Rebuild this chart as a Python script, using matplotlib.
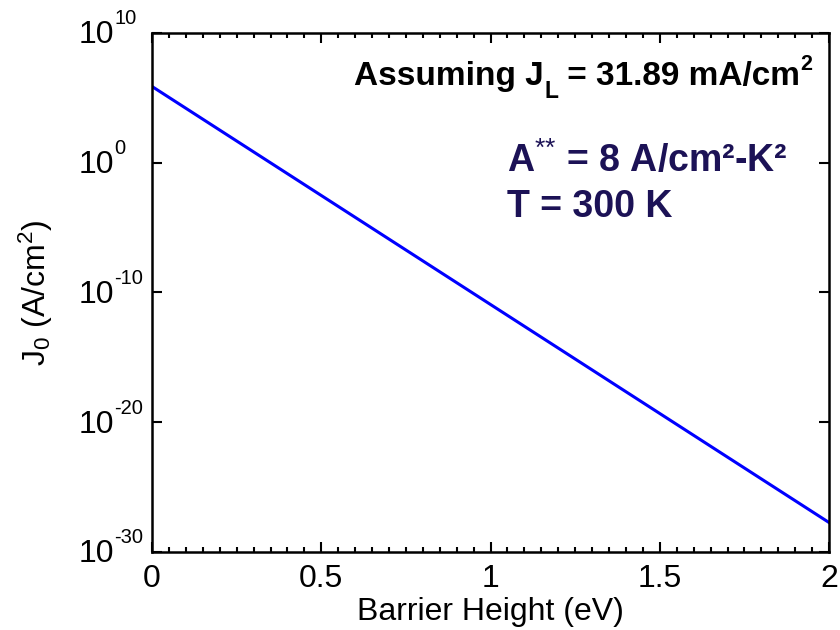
import numpy as np
import matplotlib
matplotlib.use("Agg")
import matplotlib.pyplot as plt
from matplotlib.ticker import FixedLocator, MultipleLocator, NullFormatter

plt.rcParams['font.family'] = ['Liberation Sans', 'DejaVu Sans']
plt.rcParams['mathtext.fontset'] = 'custom'
plt.rcParams['mathtext.rm'] = 'Liberation Sans'
plt.rcParams['mathtext.it'] = 'Liberation Sans'
plt.rcParams['mathtext.bf'] = 'Liberation Sans:bold'
plt.rcParams['axes.unicode_minus'] = False

# Data
barrier_height = [0.0, 0.5, 1.0, 1.5, 2.0]
log10_j0 = [5.86, -2.54, -10.94, -19.34, -27.74]
j0 = [10.0 ** v for v in log10_j0]

xticks = [0, 0.5, 1, 1.5, 2]
xticklabels = ['0', '0.5', '1', '1.5', '2']
yexps = [-30, -20, -10, 0, 10]

fig = plt.figure(figsize=(8.4, 6.3), dpi=100)
ax = fig.add_axes([0.181, 0.124, 0.806, 0.824])
ax.semilogy(barrier_height, j0, color='#0000ff', lw=2.2)
ax.set_xlim(0, 2)
ax.set_ylim(1e-30, 1e10)

ax.xaxis.set_major_locator(FixedLocator(xticks))
ax.set_xticklabels(xticklabels)
ax.xaxis.set_minor_locator(MultipleLocator(0.05))
ax.yaxis.set_major_locator(FixedLocator([10.0 ** e for e in yexps]))
ax.yaxis.set_minor_locator(FixedLocator([]))
ax.yaxis.set_major_formatter(NullFormatter())

ax.tick_params(which='both', direction='in', top=True, right=True, width=1.5, labelsize=23, colors='black')
ax.tick_params(which='major', length=7)
ax.tick_params(which='minor', length=3.5)
ax.tick_params(axis='x', pad=9)
for s in ax.spines.values():
    s.set_linewidth(1.8)

# y tick labels: "10" plus raised exponent (MATLAB style)
for e in yexps:
    ax.annotate('10', xy=(0, 10.0 ** e), xycoords=('axes fraction', 'data'),
                xytext=(-38, -10.5), textcoords='offset pixels',
                ha='right', va='baseline', fontsize=23, annotation_clip=False)
    ax.annotate('%d' % e, xy=(0, 10.0 ** e), xycoords=('axes fraction', 'data'),
                xytext=(-38, 8.5), textcoords='offset pixels',
                ha='left', va='baseline', fontsize=14.5, annotation_clip=False)

ax.set_xlabel('Barrier Height (eV)', fontsize=23, labelpad=2)
ax.set_ylabel(r'J$_\mathregular{0}$ (A/cm$^\mathregular{2}$)', fontsize=23)
ax.yaxis.set_label_coords(-0.143, 0.5)

# "Assuming J_L = 31.89 mA/cm^2" built from pieces, right aligned
renderer = fig.canvas.get_renderer()
pieces = [('Assuming J', 24, 0), ('L', 16.5, -13), (' = 31.89 mA/cm', 24, 0), ('2', 15.5, 15)]
anchor = (0.975, 0.90)
texts = []
for s, fs, dy in pieces:
    t = ax.annotate(s, xy=anchor, xycoords='axes fraction', xytext=(0, dy),
                    textcoords='offset pixels', ha='left', va='baseline',
                    fontsize=fs, fontweight='bold', color='black')
    texts.append(t)
widths = [t.get_window_extent(renderer).width for t in texts]
x = -sum(widths)
for t, w, (s, fs, dy) in zip(texts, widths, pieces):
    t.set_position((x, dy))
    x += w

navy = '#1c1256'
ax.text(0.524, 0.732, r'A$^{\text{**}}$ = 8 A/cm²-K²',
        transform=ax.transAxes, ha='left', va='baseline', fontsize=27, fontweight='bold', color=navy)
ax.text(0.524, 0.645, 'T = 300 K',
        transform=ax.transAxes, ha='left', va='baseline', fontsize=27, fontweight='bold', color=navy)

fig.savefig('out.png', dpi=100)
